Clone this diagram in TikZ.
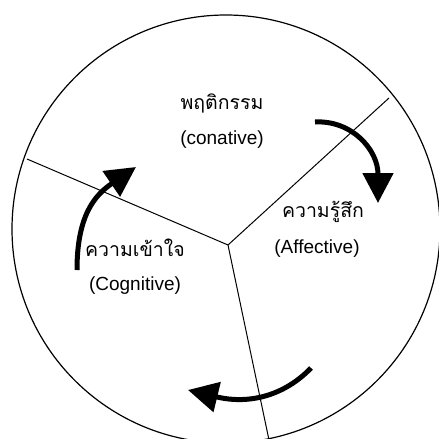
\documentclass[tikz,border=0pt]{standalone}
\usepackage{fontspec}
\setmainfont{Liberation Sans}
\newfontfamily\thaifont[Script=Thai]{Loma}
\usetikzlibrary{arrows.meta, positioning}

\begin{document}
\begin{tikzpicture}[x=1pt, y=-1pt,
  rim/.style={circle, draw, line width=1.2pt, minimum size=428pt, inner sep=0pt},
  thai/.style={font=\thaifont\fontsize{19.5}{22}\selectfont, inner sep=0pt},
  eng/.style={font=\fontsize{19}{22}\selectfont, inner sep=0pt},
  divider/.style={line width=1pt},
  turn/.style={line width=5pt, -{Triangle[length=30pt, width=30pt]}}
]
  \useasboundingbox (0,0) rectangle (439,439);
  \clip (0,0) rectangle (439,439);

  \node[rim] (wheel) at (226,229) {};

  % dividers
  \coordinate (hub) at (228,245);
  \coordinate (endL) at (27,159);
  \coordinate (endR) at (389,98);
  \coordinate (endB) at (269,440);
  \draw[divider] (hub) -- (endL);
  \draw[divider] (hub) -- (endR);
  \draw[divider] (hub) -- (endB);

  % labels
  \node[thai] (conTh) at (222,103) {พฤติกรรม};
  \node[eng] (conEn) at (222,140) {(conative)};
  \node[thai] (affTh) at (323,212) {ความรู้สึก};
  \node[eng] (affEn) at (317,249) {(Affective)};
  \node[thai] (cogTh) at (135,248) {ความเข้าใจ};
  \node[eng] (cogEn) at (135,286) {(Cognitive)};

  % cycle arrows
  \coordinate (a1s) at (315,122);
  \coordinate (a1e) at (378,203);
  \coordinate (a2s) at (311,368);
  \coordinate (a2e) at (188,390);
  \coordinate (a3s) at (77,270);
  \coordinate (a3e) at (136,167);
  \draw[turn] (a1s) .. controls (352,120) and (378,150) .. (a1e);
  \draw[turn] (a2s) .. controls (285,395) and (250,405) .. (a2e);
  \draw[turn] (a3s) .. controls (77,215) and (95,195) .. (a3e);
\end{tikzpicture}
\end{document}
